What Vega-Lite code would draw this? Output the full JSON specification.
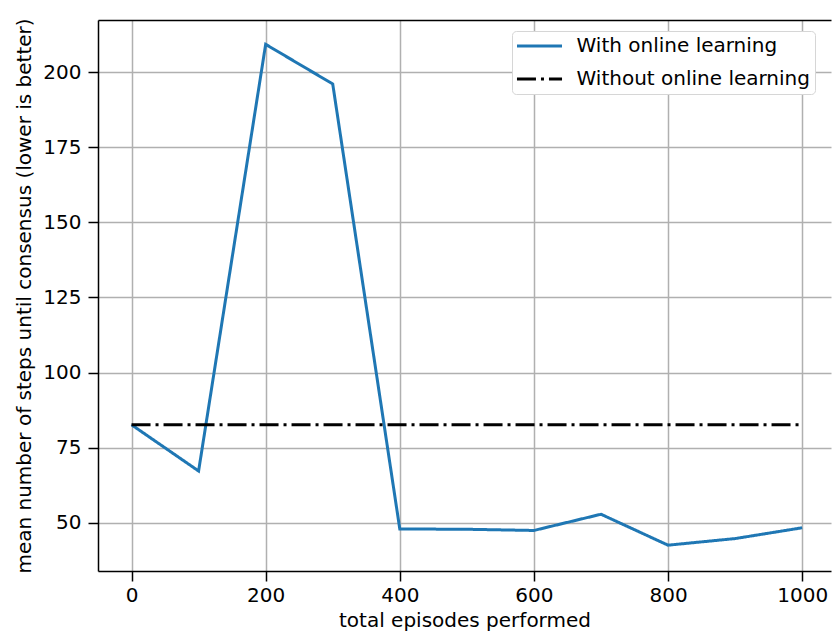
{
  "$schema": "https://vega.github.io/schema/vega-lite/v6.json",
  "width": 733,
  "height": 551,
  "autosize": "none",
  "padding": {"left": 98, "top": 20, "right": 1, "bottom": 60},
  "background": "#ffffff",
  "config": {
    "view": {"stroke": null},
    "font": "DejaVu Sans",
    "axis": {
      "labelFont": "DejaVu Sans",
      "labelFontSize": 20,
      "labelColor": "#000000",
      "titleFont": "DejaVu Sans",
      "titleFontSize": 20,
      "titleFontWeight": "normal",
      "titleColor": "#000000",
      "titleLimit": 1000,
      "tickColor": "#000000",
      "tickWidth": 1.5,
      "tickSize": 10,
      "domainColor": "#000000",
      "domainWidth": 1.5,
      "gridColor": "#b0b0b0",
      "gridWidth": 1.5,
      "gridOpacity": 1,
      "labelFlush": false,
      "labelOverlap": false
    },
    "legend": {
      "symbolType": "M-2.65,0H2.65",
      "symbolSize": 289,
      "symbolStrokeWidth": 3,
      "symbolOffset": 12.5,
      "labelFont": "DejaVu Sans",
      "labelFontSize": 20,
      "labelColor": "#000000",
      "labelOffset": 27,
      "labelLimit": 0,
      "padding": 5,
      "rowPadding": 13,
      "strokeColor": "#d6d6d6",
      "cornerRadius": 4,
      "fillColor": "#ffffff"
    }
  },
  "data": {
    "values": [
      {"series": "With online learning", "episodes": 0, "steps": 82.6},
      {"series": "With online learning", "episodes": 100, "steps": 67.2},
      {"series": "With online learning", "episodes": 200, "steps": 209.3},
      {"series": "With online learning", "episodes": 300, "steps": 196.1},
      {"series": "With online learning", "episodes": 400, "steps": 47.9},
      {"series": "With online learning", "episodes": 500, "steps": 47.8},
      {"series": "With online learning", "episodes": 600, "steps": 47.4},
      {"series": "With online learning", "episodes": 700, "steps": 52.8},
      {"series": "With online learning", "episodes": 800, "steps": 42.5},
      {"series": "With online learning", "episodes": 900, "steps": 44.7},
      {"series": "With online learning", "episodes": 1000, "steps": 48.3},
      {"series": "Without online learning", "episodes": 0, "steps": 82.6},
      {"series": "Without online learning", "episodes": 1000, "steps": 82.6}
    ]
  },
  "layer": [
    {
      "mark": {"type": "line", "strokeWidth": 3},
      "encoding": {
        "x": {
          "field": "episodes",
          "type": "quantitative",
          "scale": {"domain": [-50, 1043], "nice": false, "zero": false},
          "axis": {
            "orient": "bottom",
            "values": [0, 200, 400, 600, 800, 1000],
            "format": "d",
            "title": "total episodes performed",
            "labelPadding": 4,
            "titlePadding": 5
          }
        },
        "y": {
          "field": "steps",
          "type": "quantitative",
          "scale": {"domain": [33.9, 217.4], "nice": false, "zero": false},
          "axis": {
            "values": [50, 75, 100, 125, 150, 175, 200],
            "format": "d",
            "title": "mean number of steps until consensus (lower is better)",
            "labelPadding": 7,
            "titlePadding": 8
          }
        },
        "color": {
          "field": "series",
          "type": "nominal",
          "scale": {"domain": ["With online learning", "Without online learning"], "range": ["#1f77b4", "#000000"]},
          "legend": {"title": null, "orient": "none", "legendX": 414, "legendY": 11}
        },
        "strokeDash": {
          "field": "series",
          "type": "nominal",
          "scale": {"domain": ["With online learning", "Without online learning"], "range": [[1, 0], [19, 5, 3, 5]]},
          "legend": {"title": null, "orient": "none", "legendX": 414, "legendY": 11}
        }
      }
    },
    {
      "mark": {"type": "point", "opacity": 0},
      "encoding": {
        "x": {
          "field": "episodes",
          "type": "quantitative",
          "axis": {"orient": "top", "labels": false, "ticks": false, "grid": false, "domain": true, "title": null}
        }
      }
    }
  ],
  "resolve": {"axis": {"x": "independent"}}
}
